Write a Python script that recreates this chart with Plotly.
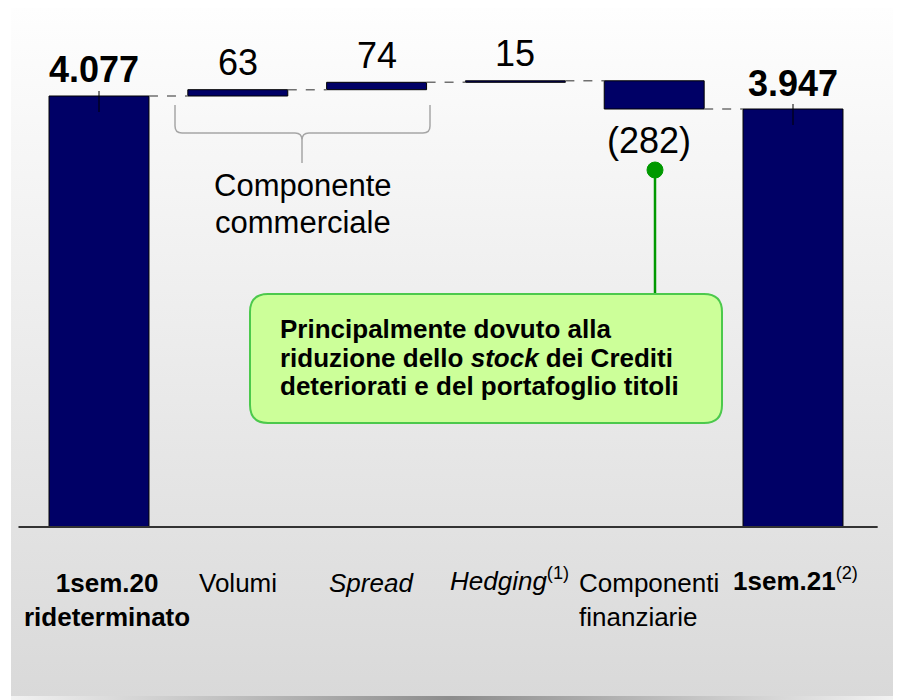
import base64
import plotly.graph_objects as go

# data
categories = ["1sem.20<br>rideterminato", "Volumi", "Spread", "Hedging", "Componenti<br>finanziarie", "1sem.21"]
start_value = 4077
deltas = [63, 74, 15, -282]
end_value = 3947
value_labels = ["4.077", "63", "74", "15", "(282)", "3.947"]

# the page puts the figure 8px in from the top-left corner
OFF = 8
W, H = 903 - OFF, 700 - OFF
FONT = "Liberation Sans, Arial, sans-serif"
NAVY = "#000066"
FLOOR = -233                 # where the broken axis starts
Y_RANGE = [-1963, 4957]
X_RANGE = [-0.6556, 5.7925]
BAR_W = 0.72


def px(x):
    return (x - OFF) / W


def py(y):
    return 1 - (y - OFF) / H


# running totals -> bar bases and heights
levels = [start_value]
for d in deltas:
    levels.append(levels[-1] + d)

bases, heights = [FLOOR], [start_value - FLOOR]
for i, d in enumerate(deltas):
    bases.append(min(levels[i], levels[i + 1]))
    heights.append(abs(d))
bases.append(FLOOR)
heights.append(end_value - FLOOR)
xs = list(range(len(categories)))

fig = go.Figure()

# totals (with the little centre tick)
fig.add_trace(go.Bar(
    x=[xs[0], xs[-1]], y=[heights[0], heights[-1]], base=[bases[0], bases[-1]],
    width=BAR_W, marker=dict(color=NAVY, line=dict(color="black", width=1)),
    error_y=dict(type="data", symmetric=False, array=[50, 50], arrayminus=[160, 160],
                 color="black", thickness=1, width=0),
    hoverinfo="skip", showlegend=False,
))
# deltas
fig.add_trace(go.Bar(
    x=xs[1:-1], y=heights[1:-1], base=bases[1:-1],
    width=BAR_W, marker=dict(color=NAVY, line=dict(color="black", width=1)),
    hoverinfo="skip", showlegend=False,
))

shapes = []
# dashed connectors
for i in range(len(categories) - 1):
    lvl = levels[i]
    shapes.append(dict(type="line", xref="x", yref="y",
                       x0=i + BAR_W / 2, x1=i + 1 - BAR_W / 2, y0=lvl, y1=lvl,
                       line=dict(color="#707070", width=1.5, dash="dash")))
# axis base line
shapes.append(dict(type="line", xref="x", yref="y", x0=-0.58, x1=5.61, y0=FLOOR, y1=FLOOR,
                   line=dict(color="#333333", width=2)))

# curly bracket under Volumi/Spread
bx0, bx1, bxm = 175, 430, 302
b_top, b_mid, b_tip = 105, 133, 163
r = 7
brace = (f"M{px(bx0)},{py(b_top)} L{px(bx0)},{py(b_mid - r)} "
         f"Q{px(bx0)},{py(b_mid)} {px(bx0 + r)},{py(b_mid)} "
         f"L{px(bxm - r)},{py(b_mid)} Q{px(bxm)},{py(b_mid)} {px(bxm)},{py(b_mid + r)} "
         f"L{px(bxm)},{py(b_tip)} M{px(bxm)},{py(b_mid + r)} "
         f"Q{px(bxm)},{py(b_mid)} {px(bxm + r)},{py(b_mid)} "
         f"L{px(bx1 - r)},{py(b_mid)} Q{px(bx1)},{py(b_mid)} {px(bx1)},{py(b_mid - r)} "
         f"L{px(bx1)},{py(b_top)}")
shapes.append(dict(type="path", xref="paper", yref="paper", path=brace,
                   line=dict(color="#a6a6a6", width=1.5)))

# green callout box
x0, x1, y0, y1, rr = 250, 722, 294, 423, 18
box = (f"M{px(x0 + rr)},{py(y0)} L{px(x1 - rr)},{py(y0)} Q{px(x1)},{py(y0)} {px(x1)},{py(y0 + rr)} "
       f"L{px(x1)},{py(y1 - rr)} Q{px(x1)},{py(y1)} {px(x1 - rr)},{py(y1)} "
       f"L{px(x0 + rr)},{py(y1)} Q{px(x0)},{py(y1)} {px(x0)},{py(y1 - rr)} "
       f"L{px(x0)},{py(y0 + rr)} Q{px(x0)},{py(y0)} {px(x0 + rr)},{py(y0)} Z")
shapes.append(dict(type="line", xref="paper", yref="paper", x0=px(655), x1=px(655),
                   y0=py(170), y1=py(294), line=dict(color="#009900", width=2.5)))
shapes.append(dict(type="circle", xref="paper", yref="paper", x0=px(647), x1=px(663),
                   y0=py(162), y1=py(178), fillcolor="#009900", line=dict(color="#009900", width=1)))
shapes.append(dict(type="path", xref="paper", yref="paper", path=box,
                   fillcolor="#ccff99", line=dict(color="#4cc94c", width=2)))

ann = []
# value labels
for i, lab in enumerate(value_labels):
    bold = i in (0, len(value_labels) - 1)
    if i == 0:
        y, shift = start_value, 27
    elif i == len(value_labels) - 1:
        y, shift = end_value, 26
    else:
        y = levels[i]
        shift = 27 if deltas[i - 1] >= 0 else -31
    ann.append(dict(x=i, y=y, xref="x", yref="y", yshift=shift, showarrow=False,
                    text=f"<b>{lab}</b>" if bold else lab, xanchor="center", yanchor="middle",
                    xshift=-5 if i == 0 else (-5 if i == 4 else 0),
                    font=dict(family=FONT, size=36, color="black")))

# category labels
cat_text = [
    "<b>1sem.20</b><br><b>rideterminato</b>",
    "Volumi",
    "<i>Spread</i>",
    "<i>Hedging</i><sup>(1)</sup>",
    "Componenti<br>finanziarie",
    "<b>1sem.21</b><sup>(2)</sup>",
]
cat_shift = [8, 0, -5, -6, -77, 2]
cat_yshift = [0, 0, 0, 5, 0, 5]      # superscripts push the line down
for i, t in enumerate(cat_text):
    ann.append(dict(x=i, y=py(566), xref="x", yref="paper", text=t, showarrow=False,
                    xanchor="left" if i == 4 else "center", yanchor="top",
                    align="left" if i == 4 else "center",
                    xshift=cat_shift[i], yshift=cat_yshift[i],
                    font=dict(family=FONT, size=26, color="black")))

# bracket caption
for t, yy in [("Componente", 185), ("commerciale", 222)]:
    ann.append(dict(x=px(303), y=py(yy), xref="paper", yref="paper", text=t, showarrow=False,
                    xanchor="center", yanchor="middle",
                    font=dict(family=FONT, size=31, color="black")))

# callout text
box_lines = ["Principalmente dovuto alla",
             "riduzione dello <i>stock</i> dei Crediti",
             "deteriorati e del portafoglio titoli"]
for t, yy in zip(box_lines, [329, 358, 386]):
    ann.append(dict(x=px(278), y=py(yy), xref="paper", yref="paper", text=f"<b>{t}</b>",
                    showarrow=False, xanchor="left", yanchor="middle",
                    font=dict(family=FONT, size=26, color="black")))

# gradient panel background (figure coordinates)
svg = f"""<svg xmlns="http://www.w3.org/2000/svg" width="{W}" height="{H}" viewBox="0 0 {W} {H}" preserveAspectRatio="none">
<defs>
<linearGradient id="g" x1="0" y1="0" x2="0" y2="1">
<stop offset="0" stop-color="#fefefe"/><stop offset="1" stop-color="#d9d9d9"/></linearGradient>
<linearGradient id="s" x1="0" y1="0" x2="1" y2="0">
<stop offset="0" stop-color="#f2f2f2"/><stop offset="0.5" stop-color="#8c8c8c"/><stop offset="1" stop-color="#f2f2f2"/></linearGradient>
</defs>
<rect x="0" y="0" width="{W}" height="{H}" fill="#ffffff"/>
<rect x="3" y="0" width="882" height="689" fill="url(#g)"/>
<rect x="3" y="688" width="882" height="4" fill="url(#s)"/>
</svg>"""
bg = "data:image/svg+xml;base64," + base64.b64encode(svg.encode()).decode()

fig.update_layout(
    width=W, height=H,
    margin=dict(l=0, r=0, t=0, b=0),
    paper_bgcolor="white", plot_bgcolor="rgba(0,0,0,0)",
    barmode="overlay",
    xaxis=dict(range=X_RANGE, visible=False, fixedrange=True),
    yaxis=dict(range=Y_RANGE, visible=False, fixedrange=True),
    shapes=shapes, annotations=ann,
    images=[dict(source=bg, xref="paper", yref="paper", x=0, y=1, sizex=1, sizey=1,
                 sizing="stretch", layer="below", xanchor="left", yanchor="top")],
    showlegend=False,
)

fig.write_html("out.html")
